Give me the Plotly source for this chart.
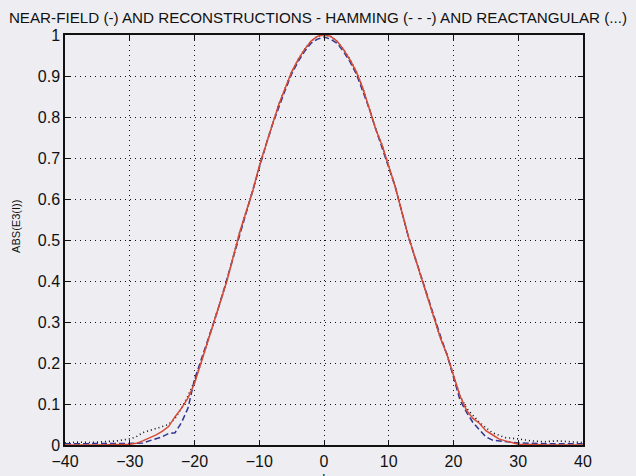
import plotly.graph_objects as go

# Sample positions along the aperture
x_pos = [-40, -35, -30, -29, -28, -27, -26, -25, -24, -23, -22, -21, -20, -19, -18, -17,
         -16, -15, -14, -13, -12, -11, -10, -9, -8, -7, -6, -5, -4, -3, -2, -1, 0,
         1, 2, 3, 4, 5, 6, 7, 8, 9, 10, 11, 12, 13, 14, 15, 16, 17, 18, 19, 20,
         21, 22, 23, 24, 25, 26, 27, 28, 29, 30, 35, 40]

# Near-field magnitude (solid)
near_field = [0.0, 0.0, 0.002, 0.004, 0.01, 0.017, 0.024, 0.033, 0.045, 0.069, 0.09, 0.115,
              0.15, 0.2, 0.25, 0.3, 0.35, 0.4, 0.46, 0.52, 0.57, 0.62, 0.68, 0.73, 0.78,
              0.83, 0.87, 0.91, 0.94, 0.965, 0.985, 0.997, 1.0,
              0.997, 0.985, 0.965, 0.94, 0.91, 0.87, 0.82, 0.77, 0.73, 0.68, 0.63, 0.57,
              0.51, 0.46, 0.41, 0.36, 0.31, 0.26, 0.22, 0.17,
              0.12, 0.085, 0.065, 0.053, 0.035, 0.025, 0.015, 0.01, 0.006, 0.002, 0.0, 0.0]

# Reconstruction with Hamming window (dashed)
hamming = [0.003, 0.003, 0.003, 0.004, 0.005, 0.01, 0.015, 0.02, 0.028, 0.03, 0.055, 0.09,
           0.16, 0.205, 0.255, 0.3, 0.35, 0.405, 0.46, 0.515, 0.57, 0.62, 0.675, 0.73, 0.78,
           0.825, 0.865, 0.905, 0.935, 0.96, 0.98, 0.99, 0.995,
           0.99, 0.98, 0.96, 0.935, 0.905, 0.865, 0.82, 0.77, 0.725, 0.68, 0.63, 0.57,
           0.51, 0.46, 0.41, 0.36, 0.31, 0.265, 0.22, 0.165,
           0.11, 0.08, 0.055, 0.037, 0.02, 0.012, 0.01, 0.008, 0.006, 0.005, 0.003, 0.003]

# Reconstruction with rectangular window (dotted)
rect_x = [-40, -38, -36, -34, -32, -30, -29, -28, -27, -26, -25, -24, -23, -22, -21, -20,
          -19, -18, -17, -16, -15, -14, -13, -12, -11, -10, -9, -8, -7, -6, -5, -4, -3, -2,
          -1, 0, 1, 2, 3, 4, 5, 6, 7, 8, 9, 10, 11, 12, 13, 14, 15, 16, 17, 18, 19, 20,
          21, 22, 24, 26, 28, 30, 31, 32, 34, 36, 38, 40]
rectangular = [0.005, 0.007, 0.006, 0.008, 0.01, 0.015, 0.02, 0.03, 0.035, 0.04, 0.045, 0.05,
               0.065, 0.09, 0.12, 0.155, 0.2, 0.25, 0.3, 0.35, 0.4, 0.46, 0.52, 0.57, 0.62,
               0.68, 0.73, 0.78, 0.83, 0.87, 0.91, 0.94, 0.965, 0.985, 0.997, 1.0,
               0.997, 0.985, 0.965, 0.94, 0.91, 0.87, 0.82, 0.77, 0.73, 0.68, 0.63, 0.57,
               0.51, 0.46, 0.41, 0.36, 0.31, 0.26, 0.22, 0.17,
               0.12, 0.09, 0.055, 0.03, 0.018, 0.015, 0.012, 0.01, 0.008, 0.01, 0.008, 0.006]

x_ticks = [-40, -30, -20, -10, 0, 10, 20, 30, 40]
y_ticks = [0, 0.1, 0.2, 0.3, 0.4, 0.5, 0.6, 0.7, 0.8, 0.9, 1]
y_tick_text = ["0", "0.1", "0.2", "0.3", "0.4", "0.5", "0.6", "0.7", "0.8", "0.9", "1"]

BG = "#eeeef2"
FONT = "Liberation Sans, Arial, sans-serif"

fig = go.Figure()
fig.add_trace(go.Scatter(x=rect_x, y=rectangular, mode="lines",
                         line=dict(color="#111111", width=1.6, dash="1px,3px")))
fig.add_trace(go.Scatter(x=x_pos, y=hamming, mode="lines",
                         line=dict(color="#2f3592", width=1.5, dash="6px,3px")))
fig.add_trace(go.Scatter(x=x_pos, y=near_field, mode="lines",
                         line=dict(color="#d84a36", width=1.5)))

axis_common = dict(
    showline=True, linecolor="#111111", linewidth=1.5, mirror="allticks",
    ticks="inside", ticklen=5, tickcolor="#111111", tickwidth=1,
    showgrid=True, gridcolor="#111111", gridwidth=1, griddash="1px,4px",
    zeroline=False, automargin=False,
    tickfont=dict(family=FONT, size=16, color="#111111"),
)

fig.update_layout(
    width=636, height=476,
    margin=dict(l=65, r=53, t=35, b=31),
    paper_bgcolor=BG, plot_bgcolor=BG,
    showlegend=False,
    title=dict(text="NEAR-FIELD (-) AND RECONSTRUCTIONS - HAMMING (- - -) AND REACTANGULAR (...)",
               x=0.5, xanchor="center", y=1 - 18 / 476, yanchor="middle", automargin=False,
               font=dict(family=FONT, size=15.2, color="#111111")),
    xaxis=dict(range=[-40, 40], tickvals=x_ticks, ticklabelstandoff=1, **axis_common),
    yaxis=dict(range=[0, 1], tickvals=y_ticks, ticktext=y_tick_text, **axis_common),
)

fig.add_annotation(text="ABS(E3(I))", xref="paper", yref="paper",
                   x=-57 / 518, y=0.532, textangle=-90, showarrow=False,
                   font=dict(family=FONT, size=11, color="#111111"))
fig.add_annotation(text="I", xref="paper", yref="paper",
                   x=0.5, y=-24 / 410, yanchor="top", showarrow=False,
                   font=dict(family=FONT, size=13, color="#111111"))

fig.write_html("out.html")
